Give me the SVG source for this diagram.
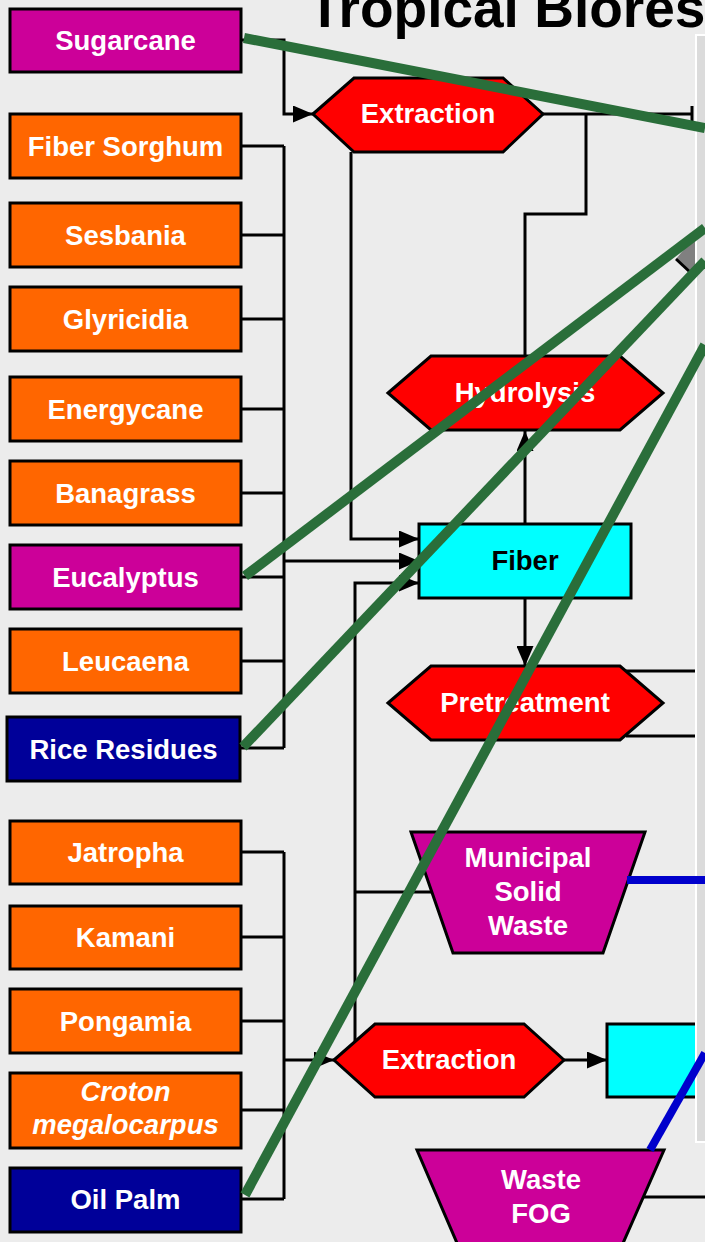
<svg xmlns="http://www.w3.org/2000/svg" width="705" height="1242" viewBox="0 0 705 1242">
<defs>
<marker id="arr" markerUnits="userSpaceOnUse" markerWidth="20" markerHeight="17" refX="20" refY="8.5" orient="auto">
<path d="M0,0 L20,8.5 L0,17 z" fill="#000"/>
</marker>
<style>
.bx{stroke:#000;stroke-width:3}
.org{fill:#FF6600}
.mag{fill:#CC0099}
.nav{fill:#000099}
.red{fill:#FF0000}
.cyn{fill:#00FFFF}
.t{font-family:"Liberation Sans",Arial,sans-serif;font-weight:bold;font-size:27.5px;text-anchor:middle;fill:#fff}
.tb{fill:#000}
.it{font-style:italic}
.ln{fill:none;stroke:#000;stroke-width:3}
.gr{stroke:#2A6E3A;stroke-width:10;fill:none}
.bl{stroke:#0000CC;stroke-width:8;fill:none}
</style>
</defs>
<rect x="0" y="0" width="705" height="1242" fill="#ECECEC"/>
<text x="308" y="27" font-family="Liberation Sans, Arial, sans-serif" font-weight="bold" font-size="55" fill="#000">Tropical Biores</text>

<g id="connectors">
<path class="ln" d="M241,40 H284 V114 H313" marker-end="url(#arr)"/>
<path class="ln" d="M543,114 H692 M692,106 V122"/>
<path class="ln" d="M586,114 V214 H525 V356"/>
<path class="ln" d="M351,152 V539 H419" marker-end="url(#arr)"/>
<path class="ln" d="M525,524 V431" marker-end="url(#arr)"/>
<path class="ln" d="M525,598 V666" marker-end="url(#arr)"/>
<path class="ln" d="M284,146 V748 M241,146 H284 M241,235 H284 M241,319 H284 M241,409 H284 M241,493 H284 M241,577 H284 M241,661 H284 M240,748 H284"/>
<path class="ln" d="M284,561 H419" marker-end="url(#arr)"/>
<path class="ln" d="M355,1041 V583 H419" marker-end="url(#arr)"/>
<path class="ln" d="M355,892 H432"/>
<path class="ln" d="M626,671 H695 M626,736 H695"/>
<path class="ln" d="M284,852 V1199 M241,852 H284 M241,937 H284 M241,1021 H284 M241,1110 H284 M241,1199 H284"/>
<path class="ln" d="M284,1060 H334" marker-end="url(#arr)"/>
<path class="ln" d="M564,1060 H607" marker-end="url(#arr)"/>
<path class="ln" d="M643,1197 H705"/>
</g>

<g id="sugarcane"><rect class="bx mag" x="10" y="9" width="231" height="63"/><text class="t" x="125.5" y="50">Sugarcane</text></g>
<g id="fiber-sorghum"><rect class="bx org" x="10" y="114" width="231" height="64"/><text class="t" x="125.5" y="156">Fiber Sorghum</text></g>
<g id="sesbania"><rect class="bx org" x="10" y="203" width="231" height="64"/><text class="t" x="125.5" y="245">Sesbania</text></g>
<g id="glyricidia"><rect class="bx org" x="10" y="287" width="231" height="64"/><text class="t" x="125.5" y="329">Glyricidia</text></g>
<g id="energycane"><rect class="bx org" x="10" y="377" width="231" height="64"/><text class="t" x="125.5" y="419">Energycane</text></g>
<g id="banagrass"><rect class="bx org" x="10" y="461" width="231" height="64"/><text class="t" x="125.5" y="503">Banagrass</text></g>
<g id="eucalyptus"><rect class="bx mag" x="10" y="545" width="231" height="64"/><text class="t" x="125.5" y="587">Eucalyptus</text></g>
<g id="leucaena"><rect class="bx org" x="10" y="629" width="231" height="64"/><text class="t" x="125.5" y="671">Leucaena</text></g>
<g id="rice-residues"><rect class="bx nav" x="7" y="717" width="233" height="64"/><text class="t" x="123.5" y="759">Rice Residues</text></g>
<g id="jatropha"><rect class="bx org" x="10" y="821" width="231" height="63"/><text class="t" x="125.5" y="862">Jatropha</text></g>
<g id="kamani"><rect class="bx org" x="10" y="906" width="231" height="63"/><text class="t" x="125.5" y="947">Kamani</text></g>
<g id="pongamia"><rect class="bx org" x="10" y="989" width="231" height="64"/><text class="t" x="125.5" y="1031">Pongamia</text></g>
<g id="croton"><rect class="bx org" x="10" y="1073" width="231" height="75"/><text class="t it" x="125.5" y="1101">Croton</text><text class="t it" x="125.5" y="1134">megalocarpus</text></g>
<g id="oil-palm"><rect class="bx nav" x="10" y="1168" width="231" height="64"/><text class="t" x="125.5" y="1209">Oil Palm</text></g>

<g id="extraction-top"><polygon class="bx red" points="313,114 354,78 503,78 543,114 503,152 354,152"/><text class="t" x="428" y="123">Extraction</text></g>
<g id="hydrolysis"><polygon class="bx red" points="388,393 431,356 620,356 663,393 620,430 431,430"/><text class="t" x="525" y="402">Hydrolysis</text></g>
<g id="fiber"><rect class="bx cyn" x="419" y="524" width="212" height="74"/><text class="t tb" x="525" y="570">Fiber</text></g>
<g id="pretreatment"><polygon class="bx red" points="388,703 431,666 620,666 663,703 620,740 431,740"/><text class="t" x="525" y="712">Pretreatment</text></g>
<g id="msw"><polygon class="bx mag" points="411,832 645,832 603,953 453,953"/><text class="t" x="528" y="867">Municipal</text><text class="t" x="528" y="901">Solid</text><text class="t" x="528" y="935">Waste</text></g>
<g id="extraction-bottom"><polygon class="bx red" points="334,1060 375,1024 524,1024 564,1060 524,1097 375,1097"/><text class="t" x="449" y="1069">Extraction</text></g>
<g id="cyan-bottom"><rect class="bx cyn" x="607" y="1024" width="120" height="73"/></g>
<g id="waste-fog"><polygon class="bx mag" points="417,1150 664,1150 620,1250 460,1250"/><text class="t" x="541" y="1189">Waste</text><text class="t" x="541" y="1223">FOG</text></g>

<g id="panel">
<rect x="696" y="35" width="20" height="1107" fill="#DBDBDB" stroke="#FFFFFF" stroke-width="2"/>
<polygon points="695,236 676,259 691,273 695,273" fill="#808080"/>
<path d="M676,259 L691,273" stroke="#000" stroke-width="3"/>
</g>

<g id="overlay-lines">
<path class="gr" d="M244,38 L705,128"/>
<path class="gr" d="M245,576 L705,228"/>
<path class="gr" d="M243,747 L705,261"/>
<path class="gr" d="M245,1195 L705,345"/>
<path class="bl" d="M627,880 H705"/>
<path class="bl" d="M650,1150 L705,1053"/>
</g>
</svg>
